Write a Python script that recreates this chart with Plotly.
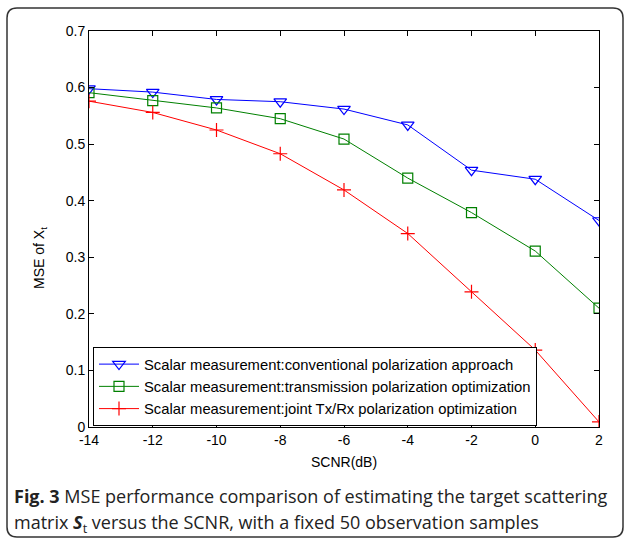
import plotly.graph_objects as go

scnr = [-14, -12, -10, -8, -6, -4, -2, 0, 2]
mse_conventional = [0.598, 0.592, 0.579, 0.575, 0.562, 0.534, 0.454, 0.438, 0.365]
mse_transmission = [0.591, 0.577, 0.564, 0.545, 0.509, 0.440, 0.379, 0.311, 0.210]
mse_joint = [0.576, 0.556, 0.525, 0.483, 0.419, 0.342, 0.239, 0.136, 0.009]

names = [
    "Scalar measurement:conventional polarization approach",
    "Scalar measurement:transmission polarization optimization",
    "Scalar measurement:joint Tx/Rx polarization optimization",
]
x_ticks = [-14, -12, -10, -8, -6, -4, -2, 0, 2]
y_ticks = [0, 0.1, 0.2, 0.3, 0.4, 0.5, 0.6, 0.7]

W, H = 625, 540
L, R, T, B = 89, 599, 31, 427


def px(x):
    return (x - L) / (R - L)


def py(y):
    return (B - y) / (B - T)


fig = go.Figure()
fig.add_trace(go.Scatter(x=scnr, y=mse_conventional, name=names[0], mode="lines+markers",
                         line=dict(color="#0000FF", width=1),
                         marker=dict(symbol="triangle-down-open", size=11, color="#0000FF",
                                     line=dict(width=1.2))))
fig.add_trace(go.Scatter(x=scnr, y=mse_transmission, name=names[1], mode="lines+markers",
                         line=dict(color="#008000", width=1),
                         marker=dict(symbol="square-open", size=10, color="#008000",
                                     line=dict(width=1.2))))
fig.add_trace(go.Scatter(x=scnr, y=mse_joint, name=names[2], mode="lines+markers",
                         line=dict(color="#FF0000", width=1),
                         marker=dict(symbol="cross-thin-open", size=10, color="#FF0000",
                                     line=dict(width=1.2, color="#FF0000"))))

axis_common = dict(showgrid=False, zeroline=False, showline=True, linecolor="black",
                   linewidth=1, mirror="ticks", ticks="inside", ticklen=5,
                   tickcolor="black", tickfont=dict(family="Arial", size=14, color="black"))

fig.update_xaxes(range=[-14, 2], tickvals=x_ticks, ticktext=[str(v) for v in x_ticks],
                 **axis_common)
fig.update_yaxes(range=[0, 0.7], tickvals=y_ticks, ticktext=[f"{v:g}" for v in y_ticks],
                 **axis_common)

# rounded border around the figure
x0, x1, y0, y1, r = 7, 623, 8, 537, 10
path = (f"M {px(x0 + r)} {py(y0)} L {px(x1 - r)} {py(y0)} "
        f"Q {px(x1)} {py(y0)} {px(x1)} {py(y0 + r)} L {px(x1)} {py(y1 - r)} "
        f"Q {px(x1)} {py(y1)} {px(x1 - r)} {py(y1)} L {px(x0 + r)} {py(y1)} "
        f"Q {px(x0)} {py(y1)} {px(x0)} {py(y1 - r)} L {px(x0)} {py(y0 + r)} "
        f"Q {px(x0)} {py(y0)} {px(x0 + r)} {py(y0)} Z")
fig.add_shape(type="path", path=path, xref="paper", yref="paper",
              line=dict(color="#333333", width=1.5), layer="below")

annots = [
    dict(x=px(344), y=py(462), text="SCNR(dB)", showarrow=False, xanchor="center",
         yanchor="middle", font=dict(family="Arial", size=14, color="black")),
    dict(x=px(40), y=py(258), text="MSE of X<sub>t</sub>", showarrow=False, textangle=-90,
         xanchor="center", yanchor="middle", font=dict(family="Arial", size=14, color="black")),
    dict(x=px(12), y=py(496), text="<b>Fig. 3</b> MSE performance comparison of estimating the target scattering",
         showarrow=False, xanchor="left", yanchor="middle",
         font=dict(family="Open Sans", size=18, color="#222222")),
    dict(x=px(12), y=py(523),
         text="matrix <b><i>S</i></b><sub>t</sub> versus the SCNR, with a fixed 50 observation samples",
         showarrow=False, xanchor="left", yanchor="middle",
         font=dict(family="Open Sans", size=18, color="#222222")),
]
for a in annots:
    a["xref"] = "paper"
    a["yref"] = "paper"

fig.update_layout(
    width=W, height=H,
    margin=dict(l=L, r=W - R, t=T, b=H - B),
    paper_bgcolor="white", plot_bgcolor="white",
    showlegend=True,
    legend=dict(x=px(93), y=py(347), xanchor="left", yanchor="top",
                bgcolor="white", bordercolor="black", borderwidth=1,
                font=dict(family="Arial", size=14.8, color="black"),
                tracegroupgap=0, itemwidth=40),
    annotations=annots,
)

fig.write_html("out.html")
